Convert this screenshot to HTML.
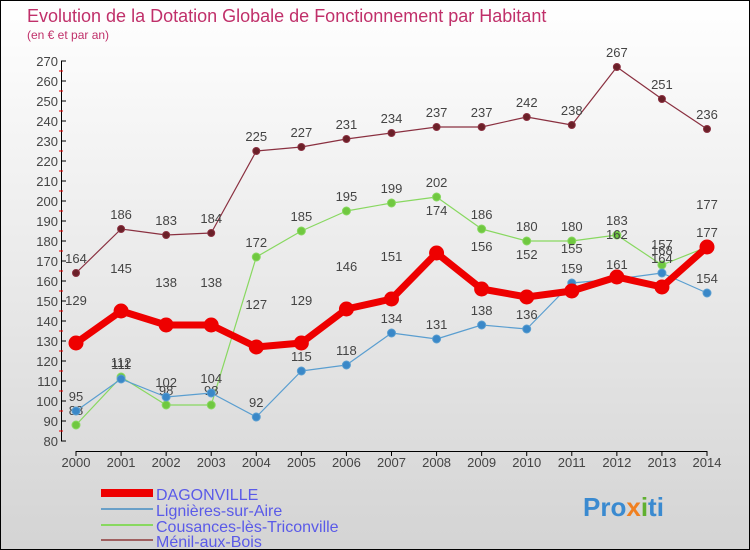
<!DOCTYPE html>
<html><head><meta charset="utf-8"><style>
body{margin:0}
#c{width:748px;height:548px;border:1px solid #000;position:relative;background:linear-gradient(#fff,#d4d4d4);font-family:"Liberation Sans",sans-serif;overflow:hidden}
svg text{font-family:"Liberation Sans",sans-serif}
</style></head><body>
<div id="c">
<svg id="s" width="748" height="548">
<text x="26" y="21" font-size="18" fill="#c0306a">Evolution de la Dotation Globale de Fonctionnement par Habitant</text>
<text x="26" y="38" font-size="12" fill="#c0306a">(en € et par an)</text>
<g id="axes"></g><g id="series"></g>
<g>
<rect x="100" y="488" width="52" height="8" fill="#e00"/>
<text x="155" y="499" font-size="16" fill="#5a5ae8">DAGONVILLE</text>
<line x1="100" x2="152" y1="508" y2="508" stroke="#6aa0c8" stroke-width="2"/>
<text x="155" y="515" font-size="16" fill="#5a5ae8">Lignières-sur-Aire</text>
<line x1="100" x2="152" y1="524" y2="524" stroke="#88d860" stroke-width="2"/>
<text x="155" y="531" font-size="16" fill="#5a5ae8">Cousances-lès-Triconville</text>
<line x1="100" x2="152" y1="539" y2="539" stroke="#a06060" stroke-width="2"/>
<text x="155" y="546" font-size="16" fill="#5a5ae8">Ménil-aux-Bois</text>
</g>
<text x="582" y="515" font-size="26" font-weight="bold" fill="#3a8ad0">Pro<tspan fill="#f08020">x</tspan><tspan fill="#60b030">i</tspan>ti</text>
</svg></div>
<script>
const years=[2000,2001,2002,2003,2004,2005,2006,2007,2008,2009,2010,2011,2012,2013,2014];
const dagonville=[129,145,138,138,127,129,146,151,174,156,152,155,162,157,177];
const lignieres=[95,111,102,104,92,115,118,134,131,138,136,159,161,164,154];
const cousances=[88,112,98,98,172,185,195,199,202,186,180,180,183,168,177];
const menil=[164,186,183,184,225,227,231,234,237,237,242,238,267,251,236];
const yTicks=[80,90,100,110,120,130,140,150,160,170,180,190,200,210,220,230,240,250,260,270];
const NS="http://www.w3.org/2000/svg";
const X=i=>75+i*(706-75)/14;
const Y=v=>440-(v-80)*2;
function mk(t,a,p){const e=document.createElementNS(NS,t);for(const k in a)e.setAttribute(k,a[k]);p.appendChild(e);return e;}
const ax=document.getElementById('axes');
let l=mk('line',{x1:60.5,x2:60.5,y1:60,y2:440,stroke:'#000'},ax);


yTicks.forEach(v=>{
 mk('line',{x1:60,x2:65,y1:Y(v),y2:Y(v),stroke:'#000'},ax);
 if(v<270)mk('line',{x1:58,x2:62,y1:Y(v+5),y2:Y(v+5),stroke:'#e00'},ax);
 const t=mk('text',{x:57,y:Y(v)+5,'font-size':13,fill:'#444','text-anchor':'end'},ax);t.textContent=v;
 
 
});
l=mk('line',{x1:75,x2:706,y1:450.5,y2:450.5,stroke:'#000'},ax);


years.forEach((y,i)=>{
 mk('line',{x1:X(i),x2:X(i),y1:450,y2:455,stroke:'#000'},ax);
 const t=mk('text',{x:X(i),y:466,'font-size':13,fill:'#444','text-anchor':'middle'},ax);t.textContent=y;
 
 
});
const sg=document.getElementById('series');
function draw(name,data,color,w,r,pc,off){
 const g=mk('g',{},sg);
 
 
 mk('polyline',{points:data.map((v,i)=>X(i)+','+Y(v)).join(' '),fill:'none',stroke:color,'stroke-width':w,'stroke-linejoin':'round'},g);
 data.forEach((v,i)=>{
  const c=mk('circle',{cx:X(i),cy:Y(v),r:r,fill:pc,stroke:color,'stroke-width':1},g);
  
  
  const t=mk('text',{x:X(i),y:Y(v)-off,'font-size':13,fill:'#444','text-anchor':'middle'},g);t.textContent=v;
  
  
 });
}
draw('menil',menil,'#8a3040',1.2,3.5,'#6a2028',10);
draw('cousances',cousances,'#88d860',1.2,4,'#70c840',10);
draw('lignieres',lignieres,'#5a9ed0',1.2,4,'#3a88c8',10);
draw('dagonville',dagonville,'#e00',7,7,'#e00',38);
</script>
</body></html>
